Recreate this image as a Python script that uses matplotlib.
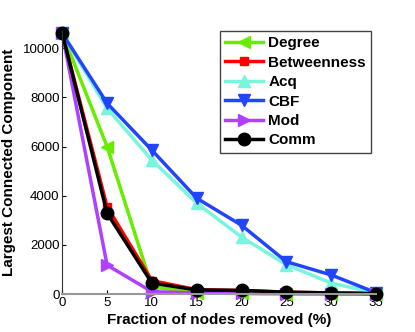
import matplotlib

matplotlib.use("Agg")
import matplotlib.pyplot as plt

plt.rcParams["font.family"] = ["Liberation Sans", "DejaVu Sans"]

fraction_removed = [0, 5, 10, 15, 20, 25, 30, 35]
degree = [10600, 6000, 300, 50, 30, 20, 10, 5]
betweenness = [10600, 3550, 550, 180, 150, 80, 50, 30]
acq = [10600, 7550, 5450, 3700, 2320, 1200, 450, 50]
cbf = [10600, 7760, 5850, 3900, 2800, 1320, 780, 60]
mod = [10600, 1180, 100, 50, 30, 20, 10, 5]
comm = [10600, 3290, 450, 170, 150, 80, 50, 25]

series = [
    ("Degree", degree, "#66ee00", "<"),
    ("Betweenness", betweenness, "#ff0000", "s"),
    ("Acq", acq, "#78f5dc", "^"),
    ("CBF", cbf, "#2244ff", "v"),
    ("Mod", mod, "#b040ff", ">"),
    ("Comm", comm, "#000000", "o"),
]

fig = plt.figure(figsize=(4.15, 3.32), dpi=100)
ax = fig.add_axes([0.150, 0.114, 0.756, 0.793])

for label, values, color, marker in series:
    ms = 6 if marker == "s" else 9
    ax.plot(fraction_removed, values, color=color, marker=marker, markersize=ms,
            linewidth=2.5, label=label, clip_on=False)

ax.set_xlim(0, 35)
ax.set_ylim(0, 10700)
ax.set_xticks(fraction_removed)
ax.set_yticks([0, 2000, 4000, 6000, 8000, 10000])
ax.tick_params(direction="in", labelsize=9.5, length=3, pad=2)
for side in ("top", "right"):
    ax.spines[side].set_visible(False)
ax.spines["left"].set_color("#333333")
ax.spines["bottom"].set_color("#999999")
ax.spines["bottom"].set_linewidth(1.5)

ax.set_xlabel("Fraction of nodes removed (%)", fontsize=11, fontweight="bold", labelpad=3)
ax.set_ylabel("Largest Connected Component", fontsize=11, fontweight="bold", labelpad=5)

leg = ax.legend(loc="upper left", bbox_to_anchor=(0.478, 1.028),
                prop={"weight": "bold", "size": 11}, fancybox=False, framealpha=1,
                edgecolor="#444444", handlelength=2.5, handletextpad=0.33,
                labelspacing=0.35, borderpad=0.35)
leg.get_frame().set_linewidth(1.0)

fig.savefig("out.png", dpi=100)
